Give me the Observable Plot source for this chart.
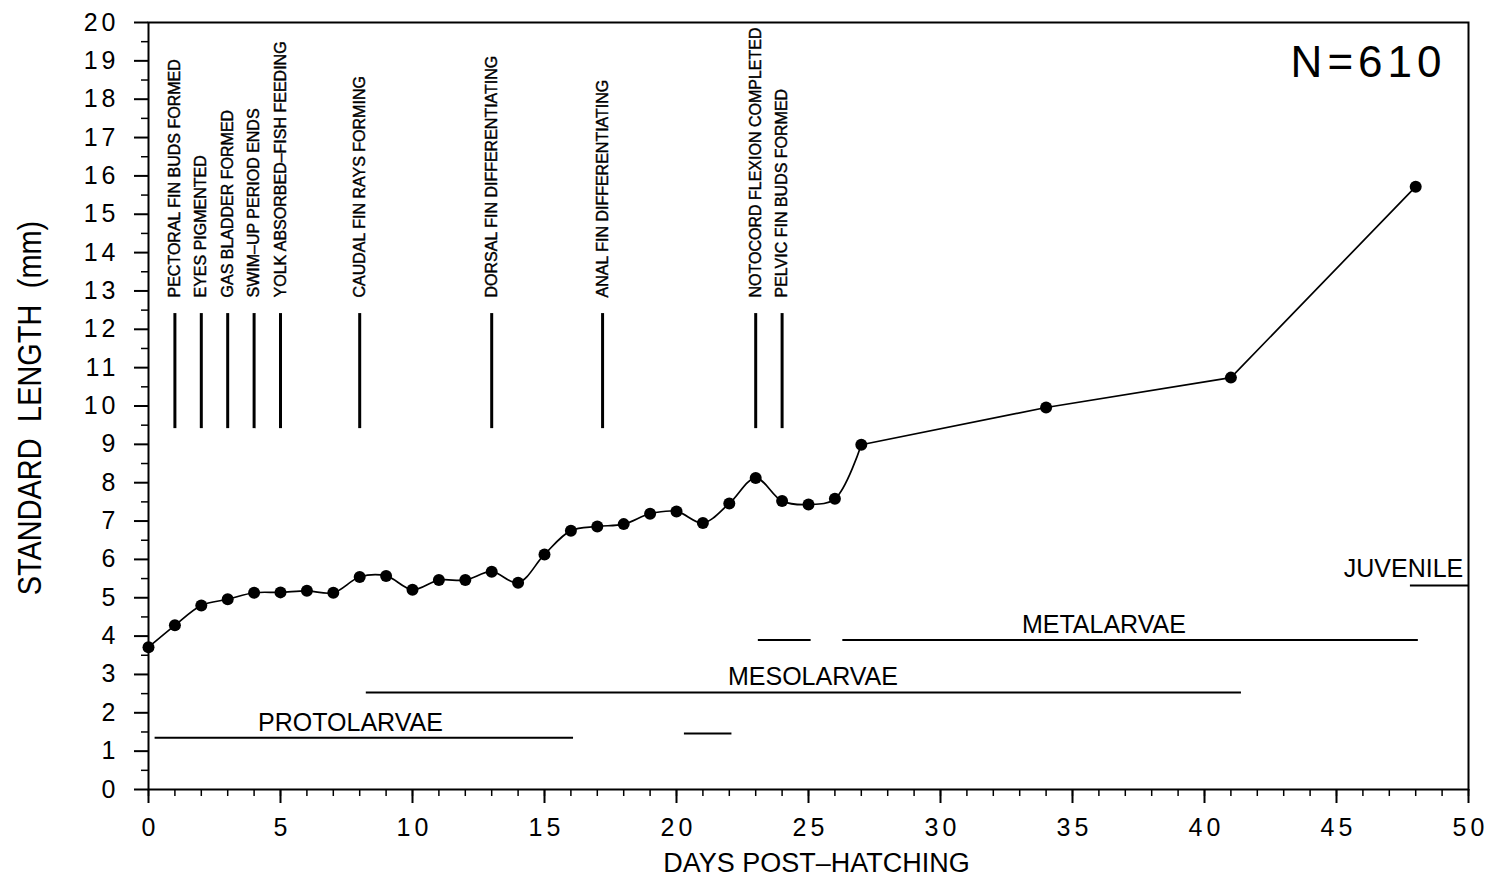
<!DOCTYPE html>
<html>
<head>
<meta charset="utf-8">
<script src="https://cdn.jsdelivr.net/npm/d3@7"></script>
<script src="https://cdn.jsdelivr.net/npm/@observablehq/plot@0.6"></script>
<style>
html, body { margin: 0; padding: 0; background: #fff; }
#chart svg { display: block; }
</style>
</head>
<body>
<div id="chart"></div>
<script>
// ---- Growth data (standard length, mm, by days post-hatching) ----
const days = [0, 1, 2, 3, 4, 5, 6, 7, 8, 9, 10, 11, 12, 13, 14, 15, 16, 17, 18, 19, 20, 21, 22, 23, 24, 25, 26, 27, 34, 41, 48];
const lengths = [3.71, 4.28, 4.80, 4.96, 5.13, 5.14, 5.18, 5.13, 5.54, 5.57, 5.21, 5.46, 5.46, 5.68, 5.39, 6.13, 6.75, 6.86, 6.92, 7.19, 7.25, 6.95, 7.46, 8.12, 7.52, 7.43, 7.58, 8.99, 9.96, 10.74, 15.72];
// daily samples are joined by a smooth curve, the weekly ones by straight segments
const lastDailyDay = 27;

// ---- Developmental events ----
const eventNames = [
  "PECTORAL FIN BUDS FORMED",
  "EYES PIGMENTED",
  "GAS BLADDER FORMED",
  "SWIM\u2013UP PERIOD ENDS",
  "YOLK ABSORBED\u2013FISH FEEDING",
  "CAUDAL FIN RAYS FORMING",
  "DORSAL FIN DIFFERENTIATING",
  "ANAL FIN DIFFERENTIATING",
  "NOTOCORD FLEXION COMPLETED",
  "PELVIC FIN BUDS FORMED"
];
const eventDays = [1, 2, 3, 4, 5, 8, 13, 17.2, 23, 24];
const eventLow = 9.41;
const eventHigh = 12.41;
const eventLabelLevel = 12.83;

// ---- Life-stage periods ----
const stageSegStart = [0.25, 20.3, 8.25, 23.1, 26.3, 47.8];
const stageSegEnd = [16.1, 22.1, 41.4, 25.1, 48.1, 50];
const stageSegLevel = [1.35, 1.46, 2.53, 3.9, 3.9, 5.32];

const stageLabels = ["PROTOLARVAE", "MESOLARVAE", "METALARVAE", "JUVENILE"];
const stageLabelDays = [7.65, 25.17, 36.19, 49.8];
const stageLabelLevels = [1.35, 2.53, 3.9, 5.32];
const stageLabelAnchor = ["middle", "middle", "middle", "end"];

// ---- Axes ----
const xMajorTicks = [0, 5, 10, 15, 20, 25, 30, 35, 40, 45, 50];
const xMinorTicks = d3.range(0, 51, 1);
const yMajorTicks = [0, 1, 2, 3, 4, 5, 6, 7, 8, 9, 10, 11, 12, 13, 14, 15, 16, 17, 18, 19, 20];
const yMinorTicks = d3.range(0.5, 20, 1);
const xTitle = "DAYS POST\u2013HATCHING";
const yTitle = "STANDARD LENGTH (mm)";
const sampleSize = "N=610";

// ---- Build tables ----
const growth = days.map((d, i) => ({day: d, len: lengths[i]}));
const growthDaily = growth.filter(d => d.day <= lastDailyDay);
const growthWeekly = growth.filter(d => d.day >= lastDailyDay);
const events = eventNames.map((n, i) => ({name: n, day: eventDays[i]}));
const segs = stageSegStart.map((s, i) => ({x1: s, x2: stageSegEnd[i], y: stageSegLevel[i]}));
const labels = stageLabels.map((n, i) => ({name: n, day: stageLabelDays[i], y: stageLabelLevels[i], anchor: stageLabelAnchor[i]}));

const FONT = "'Liberation Sans', Arial, Helvetica, sans-serif";

const chart = Plot.plot({
  width: 1493,
  height: 882,
  marginLeft: 148,
  marginRight: 25,
  marginTop: 22,
  marginBottom: 93,
  style: {fontFamily: FONT, fontSize: "25px", background: "white", color: "black"},
  x: {domain: [0, 50], label: null},
  y: {domain: [0, 20], label: null},
  marks: [
    Plot.axisX({ticks: xMinorTicks, tickSize: 7, tickFormat: () => "", strokeWidth: 1.5, label: null}),
    Plot.axisX({ticks: xMajorTicks, tickSize: 14, tickPadding: 15, strokeWidth: 2, fontSize: 25, tickFormat: d => String(d), label: null}),
    Plot.axisY({ticks: yMinorTicks, tickSize: 7, tickFormat: () => "", strokeWidth: 1.5, label: null}),
    Plot.axisY({ticks: yMajorTicks, tickSize: 14, tickPadding: 15, strokeWidth: 2, fontSize: 25, tickFormat: d => String(d), label: null}),
    Plot.frame({stroke: "black", strokeWidth: 2}),
    // events
    Plot.ruleX(events, {x: "day", y1: eventLow, y2: eventHigh, stroke: "black", strokeWidth: 3}),
    Plot.text(events, {x: "day", y: eventLabelLevel, text: "name", rotate: -90, textAnchor: "start", lineAnchor: "middle", fontSize: 16, fill: "black", stroke: "black", strokeWidth: 0.4}),
    // stages
    Plot.ruleY(segs, {y: "y", x1: "x1", x2: "x2", stroke: "black", strokeWidth: 2}),
    Plot.text(labels.filter(d => d.anchor === "middle"), {x: "day", y: "y", text: "name", textAnchor: "middle", lineAnchor: "bottom", dy: -7, fontSize: 25, fill: "black"}),
    Plot.text(labels.filter(d => d.anchor === "end"), {x: "day", y: "y", text: "name", textAnchor: "end", lineAnchor: "bottom", dy: -8, fontSize: 25, fill: "black"}),
    // growth curve
    Plot.line(growthDaily, {x: "day", y: "len", curve: "catmull-rom", stroke: "black", strokeWidth: 1.7}),
    Plot.line(growthWeekly, {x: "day", y: "len", curve: "linear", stroke: "black", strokeWidth: 1.7}),
    Plot.dot(growth, {x: "day", y: "len", r: 6, fill: "black", stroke: "none"}),
    // sample size
    Plot.text([sampleSize], {frameAnchor: "top-right", dx: -22, dy: 40, textAnchor: "end", lineAnchor: "middle", fontSize: 44, fill: "black"}),
    // axis titles
    Plot.text([yTitle], {frameAnchor: "left", dx: -118, dy: 2, rotate: -90, textAnchor: "middle", lineAnchor: "middle", fontSize: 34, fill: "black"}),
    Plot.text([xTitle], {frameAnchor: "bottom", dx: 8, dy: 74, textAnchor: "middle", lineAnchor: "middle", fontSize: 27, fill: "black"})
  ]
});

document.getElementById("chart").appendChild(chart);

// plotter-style lettering: wider digit spacing, condensed vertical title
const svg = d3.select(chart);
svg.selectAll('g[aria-label="y-axis tick label"] text').style("letter-spacing", "4px");
svg.selectAll('g[aria-label="x-axis tick label"] text').style("letter-spacing", "4px").attr("dx", 2);
svg.selectAll("text").filter(function() { return this.textContent === sampleSize; }).style("letter-spacing", "5px");
svg.selectAll("text").filter(function() { return this.textContent === yTitle; })
  .style("word-spacing", "10px")
  .attr("transform", function() { return (this.getAttribute("transform") || "") + " scale(0.85,1)"; });
</script>
</body>
</html>
